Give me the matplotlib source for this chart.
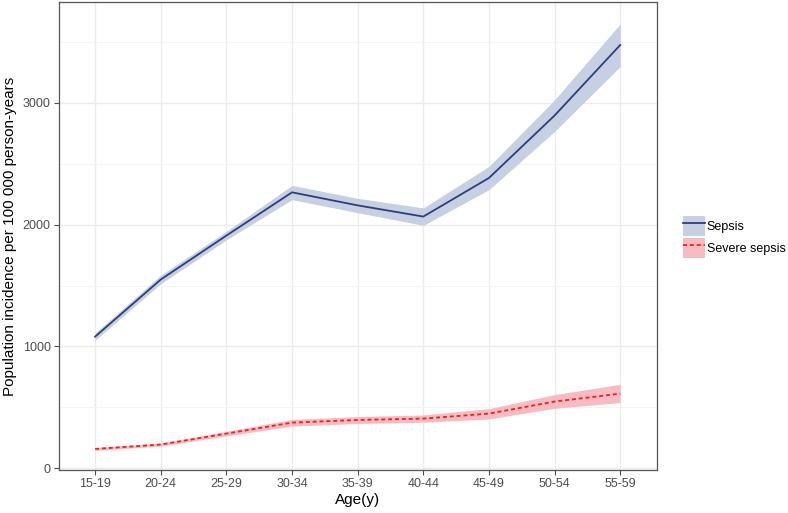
import matplotlib.pyplot as plt
from matplotlib.patches import Patch
from matplotlib.lines import Line2D

plt.rcParams['font.family'] = ['Liberation Sans', 'DejaVu Sans']

ages = ["15-19", "20-24", "25-29", "30-34", "35-39", "40-44", "45-49", "50-54", "55-59"]

sepsis = [1080, 1549, 1910, 2265, 2158, 2066, 2383, 2896, 3475]
sepsis_lo = [1050, 1515, 1875, 2205, 2098, 1994, 2287, 2765, 3298]
sepsis_hi = [1110, 1585, 1945, 2322, 2216, 2137, 2478, 3025, 3648]

severe = [158, 194, 284, 374, 396, 407, 448, 547, 612]
severe_lo = [146, 182, 266, 345, 367, 377, 404, 492, 539]
severe_hi = [170, 206, 302, 400, 424, 437, 489, 604, 689]

fig = plt.figure(figsize=(7.88, 5.13), dpi=100)
ax = fig.add_axes([59 / 788, 43 / 513, 598 / 788, 468 / 513])

x = list(range(len(ages)))
ax.fill_between(x, sepsis_lo, sepsis_hi, color='#c6d0e2', lw=0, zorder=2)
ax.plot(x, sepsis, color='#2b3f7d', lw=1.3, zorder=3)
ax.fill_between(x, severe_lo, severe_hi, color='#f6bcc2', lw=0, zorder=2)
ax.plot(x, severe, color='#ff1a1a', lw=1.3, ls=(0, (2.2, 1.6)), zorder=3)

ax.set_xlim(-0.55, 8.56)
ax.set_ylim(-15, 3828)
ax.set_xticks(x)
ax.set_xticklabels(ages)
ax.set_yticks([0, 1000, 2000, 3000])
ax.set_yticks([500, 1500, 2500, 3500], minor=True)

ax.grid(True, which='major', color='#ebebeb', lw=1.0, zorder=0)
ax.grid(True, which='minor', color='#f3f3f3', lw=0.6, zorder=0)
ax.set_axisbelow(True)
ax.tick_params(which='major', colors='#4d4d4d', labelsize=9, length=3.5, width=0.8, pad=2.5)
ax.tick_params(which='minor', length=0)
for s in ax.spines.values():
    s.set_color('#555555')
    s.set_linewidth(0.9)

ax.set_xlabel("Age(y)", fontsize=11, labelpad=2)
ax.set_ylabel("Population incidence per 100 000 person-years", fontsize=11)
ax.yaxis.set_label_coords(-42 / 598, 0.5)

handles = [
    (Patch(facecolor='#c6d0e2', edgecolor='none'), Line2D([], [], color='#2b3f7d', lw=1.3)),
    (Patch(facecolor='#f6bcc2', edgecolor='none'), Line2D([], [], color='#ff1a1a', lw=1.3, ls=(0, (2.2, 1.6)))),
]
fig.legend(handles, ["Sepsis", "Severe sepsis"], loc='upper left',
           bbox_to_anchor=(683 / 788, 1 - 216 / 513), frameon=False,
           fontsize=9, handlelength=1.76, handleheight=2.1, handletextpad=0.15,
           labelspacing=0.15, borderpad=0, borderaxespad=0)

fig.savefig("out.png", dpi=100)
